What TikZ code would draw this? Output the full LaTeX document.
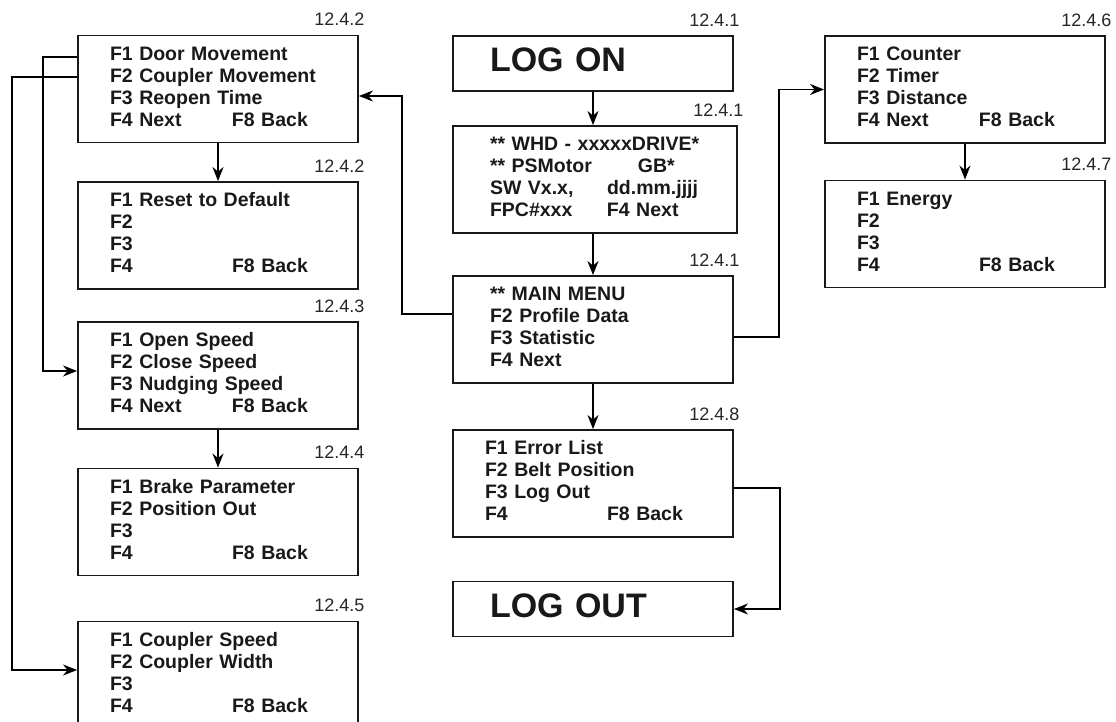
\documentclass[tikz,border=0pt]{standalone}
\usepackage{fontspec}
\setmainfont{Liberation Sans}
\newfontfamily\menufont{Liberation Sans}
\usetikzlibrary{arrows.meta}

% display lines, left aligned and never broken
\newcommand{\lcd}[1]{\begin{tabular}{@{}l@{}}#1\end{tabular}}
\newcommand{\backkey}[1]{\makebox[122pt][l]{#1}F8 Back}

\begin{document}
\begin{tikzpicture}[x=1pt, y=-1pt,
    screen/.style={rectangle, draw=black!90, line width=1.9pt,
                minimum height=107pt, inner xsep=32pt, inner ysep=0pt,
                text width=216pt, align=left, text=black!90,
                font=\menufont\bfseries\fontsize{19.5}{22}\selectfont},
    bigscreen/.style={screen, minimum height=55pt, inner xsep=37pt,
                text width=206pt, font=\menufont\bfseries\fontsize{34}{40}\selectfont},
    tag/.style={anchor=base east, font=\fontsize{18}{20}\selectfont,
                text=black!85, xshift=9pt, yshift=9pt},
    arr/.style={-{Stealth[length=14pt, width=11pt, inset=4.5pt]}, line width=1.4pt},
]
\useasboundingbox (0,0) rectangle (1116,722);

% --- Left column ---
\node[screen] (door) at (218,89) {\lcd{F1 Door Movement\\F2 Coupler Movement\\
  F3 Reopen Time\\\backkey{F4 Next}}};
\node[screen] (reset) at (218,235.5) {\lcd{F1 Reset to Default\\F2\\F3\\\backkey{F4}}};
\node[screen] (speed) at (218,375.5) {\lcd{F1 Open Speed\\F2 Close Speed\\
  F3 Nudging Speed\\\backkey{F4 Next}}};
\node[screen] (brake) at (218,522) {\lcd{F1 Brake Parameter\\F2 Position Out\\F3\\\backkey{F4}}};
\node[screen] (coupler) at (218,675) {\lcd{F1 Coupler Speed\\F2 Coupler Width\\F3\\\backkey{F4}}};

% --- Middle column ---
\node[bigscreen] (logon) at (593,63.5) {\lcd{LOG ON}};
\node[screen, inner xsep=37pt, text width=210pt] (whd) at (595,179.5)
  {\lcd{** WHD - xxxxxDRIVE*\\\makebox[148pt][l]{** PSMotor}GB*\\
  \makebox[117pt][l]{SW Vx.x,}dd.mm.jjjj\\\makebox[117pt][l]{FPC\#xxx}F4 Next}};
\node[screen, inner xsep=37pt, text width=206pt] (mainmenu) at (593,329.5)
  {\lcd{** MAIN MENU\\F2 Profile Data\\F3 Statistic\\F4 Next}};
\node[screen] (errors) at (593,483.5) {\lcd{F1 Error List\\F2 Belt Position\\
  F3 Log Out\\\backkey{F4}}};
\node[bigscreen] (logout) at (593,609) {\lcd{LOG OUT}};

% --- Right column ---
\node[screen] (counter) at (965,89.5) {\lcd{F1 Counter\\F2 Timer\\F3 Distance\\
  \backkey{F4 Next}}};
\node[screen] (energy) at (965,234) {\lcd{F1 Energy\\F2\\F3\\\backkey{F4}}};

% --- Chapter numbers ---
\node[tag] (t1) at (door.north east) {12.4.2};
\node[tag] (t2) at (reset.north east) {12.4.2};
\node[tag] (t3) at (speed.north east) {12.4.3};
\node[tag] (t4) at (brake.north east) {12.4.4};
\node[tag] (t5) at (coupler.north east) {12.4.5};
\node[tag] (t6) at (logon.north east) {12.4.1};
\node[tag] (t7) at (whd.north east) {12.4.1};
\node[tag] (t8) at (mainmenu.north east) {12.4.1};
\node[tag] (t9) at (errors.north east) {12.4.8};
\node[tag] (t10) at (counter.north east) {12.4.6};
\node[tag] (t11) at (energy.north east) {12.4.7};

% --- Arrows ---
\draw[arr] (logon.south) -- (logon.south |- whd.north);
\draw[arr] (whd.south -| mainmenu.north) -- (mainmenu.north);
\draw[arr] (mainmenu.south) -- (errors.north);
\draw[arr] (door.south) -- (reset.north);
\draw[arr] (speed.south) -- (brake.north);
\draw[arr] (counter.south) -- (energy.north);
\draw[arr] ([yshift=15.5pt]mainmenu.west) -- ++(-50,0) |- ([yshift=-7pt]door.east);
\draw[arr] ([yshift=-7.5pt]mainmenu.east) -- ++(45,0) |- (counter.west);
\draw[arr] ([yshift=32pt]door.west) -- ++(-34,0) |- ([yshift=4.5pt]speed.west);
\draw[arr] ([yshift=12pt]door.west) -- ++(-65,0) |- ([yshift=5pt]coupler.west);
\draw[arr] ([yshift=-4.5pt]errors.east) -- ++(46,0) |- (logout.east);

\end{tikzpicture}
\end{document}
